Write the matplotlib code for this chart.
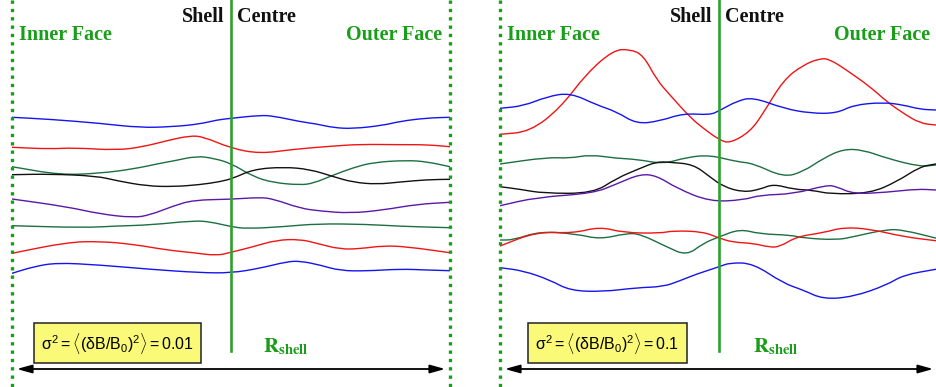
import numpy as np
import matplotlib.pyplot as plt
from matplotlib.path import Path
from matplotlib.patches import PathPatch

# field lines across the shell: x runs 0 (inner face) -> 1 (outer face),
# y is the vertical position of the line (pixel rows, downwards)
blue = '#1414f0'
red = '#f01414'
green = '#1d6e42'
black = '#111111'
purple = '#5a18a8'

# sigma^2 = 0.01 (weak turbulence)
weak_x1 = [0, .087, .201, .292, .368, .429, .467, .5, .566, .597, .658, .696, .734, .779, .848, .886, .947, 1.0]
weak_y1 = [117.3, 119.3, 123.3, 127.7, 126.7, 124, 120, 118.3, 115.3, 116, 121.7, 124, 127.7, 128.7, 125.3, 121.3, 118, 117.3]
weak_x2 = [0, .087, .140, .239, .300, .353, .406, .437, .5, .566, .642, .734, .795, .886, .947, 1.0]
weak_y2 = [147.3, 149, 147.7, 150.3, 146.7, 140.7, 135.7, 136.7, 148.3, 153.7, 149.3, 146, 144.3, 144.7, 144.7, 146.7]
weak_x3 = [0, .110, .201, .277, .338, .368, .422, .460, .5, .551, .597, .658, .688, .734, .779, .825, .901, .947, 1.0]
weak_y3 = [166.7, 175, 173.3, 169, 163.3, 161, 156, 158.3, 163.3, 176.7, 182.7, 185, 183.3, 175, 167.7, 162.3, 160.3, 161.7, 166.7]
weak_x4 = [0, .087, .193, .239, .307, .368, .429, .475, .505, .551, .620, .680, .734, .779, .833, .886, .947, 1.0]
weak_y4 = [174.7, 174, 176, 180.7, 186, 186.7, 184.7, 181.7, 178.3, 169.3, 167, 169.3, 176.7, 182.3, 184.3, 182, 179.7, 179.3]
weak_x5 = [0, .125, .201, .277, .315, .368, .414, .5, .566, .597, .658, .703, .772, .848, .924, 1.0]
weak_y5 = [199, 206.7, 214, 217.7, 215, 206, 200, 199.3, 197.3, 199, 208.3, 211, 213.3, 210, 204.3, 202.3]
weak_x6 = [0, .163, .239, .315, .414, .452, .5, .536, .620, .696, .810, .886, 1.0]
weak_y6 = [225.7, 227.7, 226, 225, 220.7, 221.7, 226.7, 228.7, 226.7, 223.7, 224.3, 226.3, 227.7]
weak_x7 = [0, .125, .201, .277, .353, .414, .467, .5, .551, .604, .658, .696, .749, .795, .848, .901, 1.0]
weak_y7 = [253.3, 242.3, 241.3, 244.3, 250, 252.7, 255.7, 252.3, 246.7, 240, 239.3, 243.3, 249.3, 248.7, 245.7, 246.7, 252.7]
weak_x8 = [0, .049, .102, .201, .315, .429, .5, .566, .627, .658, .703, .749, .810, .886, .947, 1.0]
weak_y8 = [273.3, 266.7, 262.7, 265, 269.3, 272.7, 273, 268.3, 261.7, 261, 265, 270.7, 271, 269, 270, 270.7]

# sigma^2 = 0.1 (strong turbulence)
strong_x1 = [0, .068, .137, .198, .259, .297, .327, .358, .388, .434, .464, .501, .525, .571, .601, .647, .692, .731, .753, .791, .845, .883, .921, .959, .995]
strong_y1 = [134.3, 131.7, 108.3, 73.3, 50, 49.3, 55, 80, 95, 117.3, 128.3, 140, 143.3, 131.7, 113.3, 80, 65, 58.3, 59.3, 70, 86.7, 101.7, 113.3, 123.3, 125]
strong_x2 = [0, .053, .107, .160, .221, .266, .312, .365, .419, .479, .501, .541, .578, .647, .708, .769, .807, .875, .921, .959, .995]
strong_y2 = [108.3, 106, 96.7, 92.7, 105, 111.7, 124, 121, 113.3, 115, 110.7, 101, 97.3, 108.3, 113.3, 113.3, 105, 102.3, 105, 109.3, 110]
strong_x3 = [0, .107, .160, .205, .266, .312, .373, .426, .479, .540, .578, .647, .692, .738, .784, .830, .883, .959, .995]
strong_y3 = [164, 157.3, 158.3, 154.7, 158.3, 159.3, 164, 157.3, 155, 161.7, 163.3, 177.3, 171.7, 158.3, 149, 150, 158.3, 166.7, 165]
strong_x4 = [0, .046, .099, .213, .266, .320, .358, .388, .441, .479, .510, .556, .594, .624, .670, .715, .753, .845, .906, .959, .995]
strong_y4 = [186.7, 189.3, 193.3, 193.3, 178.3, 168.3, 161.7, 162.3, 164.3, 176.7, 186.7, 192.3, 189.3, 184, 189.3, 190.3, 194, 193.3, 181.7, 166.7, 164]
strong_x5 = [0, .084, .213, .266, .320, .358, .404, .479, .556, .594, .670, .746, .769, .807, .883, .952, .995]
strong_y5 = [205.7, 197.3, 193.3, 184, 174, 175.7, 188.3, 201.7, 200, 195, 194, 185, 186.7, 194, 192.3, 189, 190]
strong_x6 = [0, .030, .091, .175, .228, .289, .320, .380, .426, .464, .501, .548, .594, .662, .692, .769, .807, .883, .921, .997]
strong_y6 = [240, 240, 231.3, 234, 239.3, 233.3, 234, 246.7, 255.7, 243.3, 236.7, 229, 234, 235, 238, 240, 236.7, 229.3, 230, 238.3]
strong_x7 = [0, .084, .167, .228, .282, .365, .396, .464, .501, .533, .578, .616, .639, .677, .738, .784, .845, .921, .995]
strong_y7 = [246, 231.7, 233.3, 226.7, 232.7, 233.3, 230.7, 231.7, 238.3, 242.3, 243.3, 247.3, 246.7, 236.7, 232.7, 227.3, 229, 236.7, 240.7]
strong_x8 = [0, .053, .114, .160, .236, .312, .373, .411, .449, .501, .525, .578, .647, .692, .738, .807, .883, .921, .995]
strong_y8 = [267.7, 270.7, 280, 290.7, 291.7, 287.7, 286.7, 280.7, 274, 266.7, 262.7, 263.3, 283.3, 290, 299.3, 296.7, 285, 275, 269.3]

weak_lines = [(weak_x1, weak_y1, blue), (weak_x2, weak_y2, red), (weak_x3, weak_y3, green),
              (weak_x4, weak_y4, black), (weak_x5, weak_y5, purple), (weak_x6, weak_y6, green),
              (weak_x7, weak_y7, red), (weak_x8, weak_y8, blue)]
strong_lines = [(strong_x1, strong_y1, red), (strong_x2, strong_y2, blue), (strong_x3, strong_y3, green),
                (strong_x4, strong_y4, black), (strong_x5, strong_y5, purple), (strong_x6, strong_y6, green),
                (strong_x7, strong_y7, red), (strong_x8, strong_y8, blue)]

face_green = '#1a9e1a'
line_green = '#2ea02e'

fig = plt.figure(figsize=(9.36, 3.87), dpi=100)
W, H = 936, 387


def smooth_path(x, y):
    # quadratic bezier through segment midpoints, using the samples as control points
    pts = np.column_stack([x, y])
    mids = (pts[:-1] + pts[1:]) / 2
    verts = [pts[0], mids[0]]
    codes = [Path.MOVETO, Path.LINETO]
    for i in range(1, len(pts) - 1):
        verts += [pts[i], mids[i]]
        codes += [Path.CURVE3, Path.CURVE3]
    verts.append(pts[-1])
    codes.append(Path.LINETO)
    return Path(verts, codes)


def draw_panel(ax, lines, sigma_text, box_x, r_x):
    ax.set_xlim(0, 1)
    ax.set_ylim(H, 0)
    ax.axis('off')

    for x, y, c in lines:
        ax.add_patch(PathPatch(smooth_path(x, y), fc='none', ec=c, lw=1.0,
                               capstyle='round', zorder=2))

    # inner / outer faces and the shell centre
    for xf in (0, 1):
        ax.plot([xf, xf], [0, H], color=face_green, lw=2.4, ls=(0, (1.0, 1.5)),
                dash_capstyle='butt', clip_on=False, zorder=3)
    ax.plot([0.5, 0.5], [0, 351], color=line_green, lw=1.9, zorder=3)

    serif = ['Liberation Serif', 'DejaVu Serif']
    fs = 14.5
    ax.text(0.486, 17, 'Shell', ha='right', va='center', fontsize=fs, fontweight='bold',
            family=serif, color='#111111')
    ax.text(0.513, 17, 'Centre', ha='left', va='center', fontsize=fs, fontweight='bold',
            family=serif, color='#111111')
    ax.text(0.016, 35, 'Inner Face', ha='left', va='center', fontsize=fs, fontweight='bold',
            family=serif, color=face_green, clip_on=False)
    ax.text(0.983, 35, 'Outer Face', ha='right', va='center', fontsize=fs, fontweight='bold',
            family=serif, color=face_green, clip_on=False)

    ax.text(box_x, 343, sigma_text, ha='left', va='center', fontsize=11.5,
            math_fontfamily='custom',
            bbox=dict(boxstyle='square,pad=0.45', fc='#fafa78', ec='#222222', lw=1.1))

    ax.text(r_x, 352, r'$\mathbf{R}_{\mathbf{shell}}$', ha='left', va='baseline', fontsize=15,
            math_fontfamily='stix', color=face_green)

    ax.annotate('', xy=(0.011, 369), xytext=(0.989, 369),
                arrowprops=dict(arrowstyle='<|-|>,head_length=0.9,head_width=0.25',
                                color='black', lw=1.3, shrinkA=0, shrinkB=0),
                annotation_clip=False)


plt.rcParams['mathtext.fontset'] = 'custom'
plt.rcParams['mathtext.rm'] = 'Liberation Sans'
plt.rcParams['mathtext.it'] = 'Liberation Sans'
plt.rcParams['mathtext.bf'] = 'Liberation Sans:bold'

ax1 = fig.add_axes([12 / W, 0, 438 / W, 1])
ax2 = fig.add_axes([500 / W, 0, 438 / W, 1])

draw_panel(ax1, weak_lines, r'$\sigma^2 = \langle(\delta B/B_0)^2\rangle = 0.01$', 0.067, 0.573)
draw_panel(ax2, strong_lines, r'$\sigma^2 = \langle(\delta B/B_0)^2\rangle = 0.1$', 0.081, 0.578)

fig.savefig('out.png', dpi=100)
